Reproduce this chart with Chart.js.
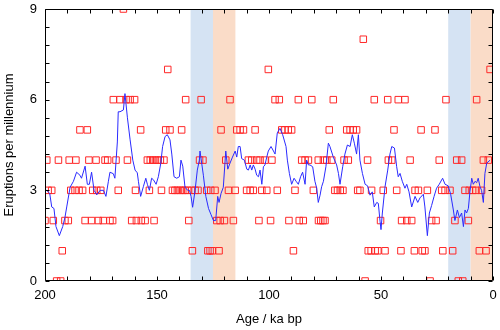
<!DOCTYPE html>
<html><head><meta charset="utf-8">
<script src="https://cdn.jsdelivr.net/npm/chart.js@4/dist/chart.umd.min.js"></script>
<style>html,body{margin:0;padding:0;background:#fff}</style>
</head><body>
<canvas id="c" width="500" height="330"></canvas>
<script>
// ---- data ----
const eruptionAge = [200.0,199.2,198.6,197.0,196.3,194.8,194.0,193.0,192.3,191.1,189.6,189.2,188.5,186.6,186.2,184.8,184.4,183.2,182.1,181.1,180.4,179.2,178.7,177.2,176.9,176.2,175.1,174.0,173.2,172.0,171.0,169.8,169.5,168.3,167.3,166.5,
165.0,163.8,163.2,162.0,161.3,160.0,159.6,159.2,157.3,157.0,155.3,154.3,153.4,153.0,151.9,151.3,150.7,149.5,148.5,148.0,146.9,146.1,145.2,144.2,143.1,142.0,140.9,139.7,139.0,138.5,137.5,137.2,136.3,135.8,134.5,134.2,133.0,
131.7,131.0,130.3,129.5,127.8,127.3,126.3,126.0,125.3,124.1,123.3,122.3,121.8,121.4,119.9,119.3,118.1,117.4,115.9,115.1,114.4,112.9,111.4,110.0,109.2,108.4,107.7,107.0,106.2,105.5,104.5,104.0,103.2,101.8,101.0,100.3,99.3,98.7,
97.3,96.3,95.4,94.3,92.9,91.4,91.1,89.9,89.1,88.4,86.9,86.5,85.4,84.7,83.9,82.4,80.9,80.2,78.0,77.9,76.9,75.9,75.7,75.0,74.2,73.1,72.0,71.3,70.6,69.4,68.2,67.0,66.5,65.3,
64.6,63.8,62.4,60.9,60.4,59.4,57.9,57.1,56.0,55.7,54.4,54.2,53.0,52.6,51.4,50.2,49.0,48.2,47.0,46.7,45.2,44.2,43.0,42.3,41.1,40.8,39.3,38.5,37.0,36.3,35.1,34.8,33.3,32.1,31.6,
30.4,29.3,28.1,27.4,25.9,25.4,24.0,22.9,22.4,21.4,21.0,19.2,18.0,17.0,16.2,15.5,14.0,13.5,12.5,11.0,10.6,9.1,7.6,7.3,6.1,5.1,4.3,3.1,2.1,1.3];
const eruptionCount = [2,4,3,3,2,0,4,0,1,2,2,4,3,3,4,3,5,3,2,5,4,2,3,4,3,2,3,2,4,4,2,2,6,4,3,6,
9,6,4,6,2,6,3,2,5,2,2,4,3,4,4,2,4,4,4,3,4,5,7,5,3,3,3,3,5,3,3,6,3,2,3,1,3,
3,4,6,4,3,1,1,3,1,3,2,1,2,5,2,4,3,6,2,3,5,5,5,3,4,3,4,3,5,4,2,4,3,4,3,7,2,4,
6,3,6,5,5,5,2,5,1,3,6,2,4,2,4,4,6,3,4,2,2,2,4,2,4,5,4,6,3,3,3,3,4,5,
4,5,5,5,3,3,8,0,4,1,1,3,6,1,1,2,3,1,6,4,4,5,3,6,1,2,6,2,4,2,1,3,3,5,1,
1,3,0,2,5,2,4,3,1,3,6,3,1,2,4,0,4,0,3,2,3,3,3,6,1,3,4,1,4,7];

const meanAge = [199.3,197.9,197.0,196.0,195.1,193.6,192.1,191.1,190.3,188.8,187.3,185.9,184.4,183.7,182.1,181.1,180.2,179.2,178.1,176.9,175.4,173.9,172.8,171.7,171.0,169.5,168.8,167.7,167.3,
166.5,165.0,164.3,163.2,162.0,160.8,159.8,158.8,158.3,157.3,156.1,155.0,154.3,153.4,152.4,151.6,150.4,149.4,148.3,147.5,146.4,145.4,144.2,143.4,142.4,141.2,140.0,139.3,138.5,137.5,136.3,135.5,134.8,134.1,133.0,132.0,131.1,
130.8,129.3,128.2,127.0,125.9,124.8,123.8,122.9,122.3,121.4,120.4,119.3,118.4,117.4,116.3,115.1,114.4,113.7,112.9,112.2,111.0,109.9,109.2,108.4,107.7,107.0,106.2,105.5,104.7,104.0,103.2,102.5,101.8,101.0,100.3,99.1,98.0,
97.3,96.3,95.1,93.9,92.4,91.8,90.9,89.9,88.8,87.9,86.9,85.9,85.0,83.9,83.2,82.4,81.7,80.5,79.5,78.7,78.0,77.2,76.5,75.7,74.6,73.5,72.8,71.3,69.8,69.0,68.3,67.1,66.1,
65.0,63.8,62.8,61.9,60.9,60.1,59.4,58.3,57.1,56.0,54.9,53.9,53.0,51.9,51.2,50.4,50.0,49.4,48.2,47.0,46.0,45.2,44.0,43.0,42.3,41.5,40.5,39.3,38.5,37.5,36.3,34.8,33.6,32.6,
31.1,30.4,29.3,28.4,27.4,26.3,25.2,24.0,22.5,21.4,20.0,18.9,17.7,17.0,15.9,15.0,14.0,13.2,12.5,11.8,11.0,10.3,9.5,8.8,8.0,7.3,6.6,5.8,5.1,4.3,3.6,2.8,1.3];
const meanRate = [3.0,2.9,2.45,2.4,1.8,1.5,1.8,2.1,2.45,3.1,3.3,3.6,3.5,3.4,3.8,3.2,3.2,3.6,3.0,2.85,3.0,3.0,2.8,3.3,3.6,3.55,3.4,4.6,5.6,
5.6,5.66,6.2,5.4,4.67,4.0,3.67,3.58,3.3,2.8,3.12,3.4,3.2,3.0,3.4,3.35,3.2,3.45,3.9,4.45,4.78,4.84,4.67,4.2,3.45,3.4,3.45,4.0,3.8,3.1,3.0,3.0,2.8,2.44,3.0,3.67,4.0,
4.3,3.5,2.8,2.4,2.2,2.0,2.0,2.8,2.6,2.9,3.1,4.3,3.7,3.9,4.1,4.3,4.1,4.45,4.45,4.05,4.0,3.7,3.67,3.84,3.67,3.84,3.7,3.5,3.45,3.67,3.2,3.78,3.84,4.1,4.3,4.45,4.3,
4.2,4.9,5.05,4.84,4.45,4.0,3.56,3.2,3.4,3.3,3.2,3.45,3.6,3.2,4.0,3.84,3.84,3.78,3.3,3.07,2.6,2.84,3.12,3.3,3.78,4.56,4.45,4.1,3.84,3.56,3.2,3.78,4.2,
4.5,4.45,4.84,4.56,4.2,4.84,4.0,3.56,3.2,3.15,2.84,2.95,2.45,2.6,2.57,1.96,1.7,2.25,3.12,3.67,4.2,4.45,4.4,3.78,3.45,3.56,3.3,3.07,3.2,2.95,2.45,2.8,2.6,2.75,
2.87,2.45,1.5,2.25,2.5,2.8,3.07,3.2,3.4,3.2,3.15,2.87,2.35,2.0,2.35,2.1,2.25,1.8,2.35,2.25,2.4,2.95,3.4,3.2,3.3,3.25,3.4,3.12,3.0,2.6,3.56,3.9,4.0];

const bandStart = [135, 125, 20, 10];
const bandEnd   = [125, 115, 10, 0];
const bandColor = ['#d5e3f3', '#fadcc8', '#d5e3f3', '#fadcc8'];

const xTickLabels = [200, 150, 100, 50, 0];
const yTickLabels = [0, 3, 6, 9];
const minorPerMajor = 5;

// ---- plugin: shaded bands, frame and inward ticks ----
const framePlugin = {
  id: 'frame',
  beforeDatasetsDraw(chart) {
    const {ctx, chartArea: a, scales: {x}} = chart;
    ctx.save();
    bandStart.forEach((s, i) => {
      const x0 = x.getPixelForValue(s), x1 = x.getPixelForValue(bandEnd[i]);
      ctx.fillStyle = bandColor[i];
      ctx.fillRect(Math.min(x0, x1), a.top, Math.abs(x1 - x0), a.bottom - a.top);
    });
    ctx.restore();
  },
  afterDraw(chart) {
    const {ctx, chartArea: a, scales: {x, y}} = chart;
    ctx.save();
    ctx.strokeStyle = '#000';
    ctx.lineWidth = 1;
    const L = Math.round(a.left) + 0.5, R = Math.round(a.right) - 0.5;
    const T = Math.round(a.top) + 0.5, B = Math.round(a.bottom) - 0.5;
    ctx.beginPath();
    ctx.rect(L, T, R - L, B - T);
    const tl = 4;
    const xs = xTickLabels, ys = yTickLabels;
    const xStep = Math.abs(xs[1] - xs[0]) / minorPerMajor;
    const yStep = Math.abs(ys[1] - ys[0]) / minorPerMajor;
    const xMin = Math.min(...xs), xMax = Math.max(...xs);
    const yMin = Math.min(...ys), yMax = Math.max(...ys);
    for (let k = 0; xMin + k * xStep <= xMax + 1e-9; k++) {
      const px = Math.round(x.getPixelForValue(xMin + k * xStep)) + 0.5;
      ctx.moveTo(px, B); ctx.lineTo(px, B - tl);
      ctx.moveTo(px, T); ctx.lineTo(px, T + tl);
    }
    for (let k = 0; yMin + k * yStep <= yMax + 1e-9; k++) {
      const py = Math.round(y.getPixelForValue(yMin + k * yStep)) + 0.5;
      ctx.moveTo(L, py); ctx.lineTo(L + tl, py);
      ctx.moveTo(R, py); ctx.lineTo(R - tl, py);
    }
    ctx.stroke();
    ctx.restore();
  }
};

const font = {family: '"Liberation Sans", Arial, sans-serif', size: 13};

new Chart(document.getElementById('c'), {
  type: 'scatter',
  data: {
    datasets: [
      {
        type: 'line',
        label: 'running mean',
        data: meanAge.map((a, i) => ({x: a, y: meanRate[i]})),
        borderColor: '#2a2aff',
        borderWidth: 1,
        pointRadius: 0,
        fill: false,
        tension: 0,
        order: 0,
        clip: 0
      },
      {
        label: 'eruptions',
        data: eruptionAge.map((a, i) => ({x: a, y: eruptionCount[i]})),
        pointStyle: 'rect',
        pointRadius: 4.6,
        borderColor: '#ff2828',
        backgroundColor: 'rgba(0,0,0,0)',
        borderWidth: 1,
        order: 1,
        clip: 0
      }
    ]
  },
  options: {
    responsive: false,
    animation: false,
    events: [],
    layout: {padding: {top: 9, right: 7, left: 0, bottom: 0}},
    plugins: {legend: {display: false}, tooltip: {enabled: false}},
    scales: {
      x: {
        type: 'linear', reverse: true, min: 0, max: 200,
        grid: {display: false, drawTicks: false},
        border: {display: false},
        afterBuildTicks: s => { s.ticks = xTickLabels.map(v => ({value: v})); },
        afterFit: s => { s.height = 49; s.paddingLeft = 0; s.paddingRight = 0; },
        ticks: {font, color: '#000', padding: 7, maxRotation: 0, autoSkip: false},
        title: {display: true, text: 'Age / ka bp', font, color: '#000', padding: {top: 2, bottom: 3}}
      },
      y: {
        type: 'linear', min: 0, max: 9,
        grid: {display: false, drawTicks: false},
        border: {display: false},
        afterBuildTicks: s => { s.ticks = yTickLabels.map(v => ({value: v})); },
        afterFit: s => { s.width = 45; s.paddingTop = 0; s.paddingBottom = 0; },
        ticks: {font, color: '#000', padding: 8},
        title: {display: true, text: 'Eruptions per millennium', font, color: '#000', padding: {top: 2, bottom: 2}}
      }
    }
  },
  plugins: [framePlugin]
});
</script>
</body></html>
